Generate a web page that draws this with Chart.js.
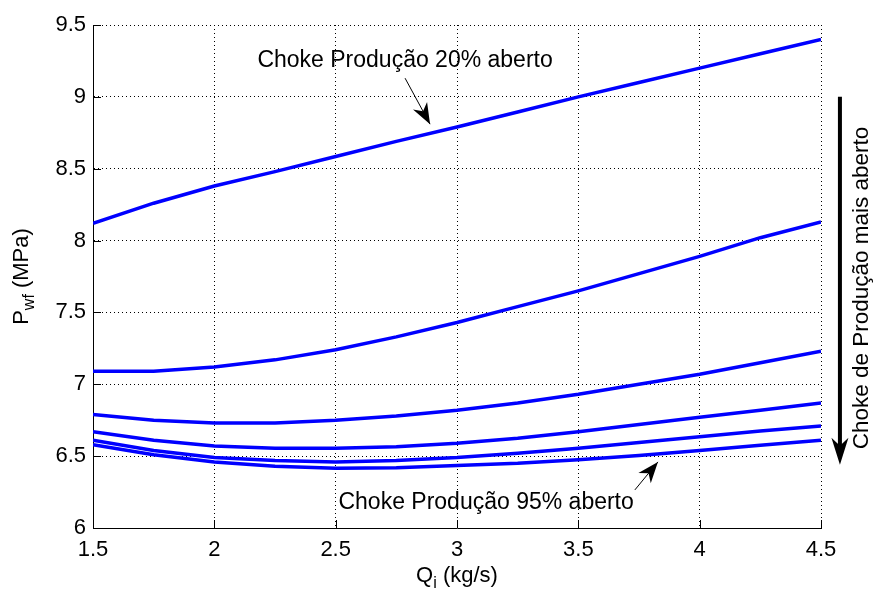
<!DOCTYPE html>
<html>
<head>
<meta charset="utf-8">
<script src="https://cdn.jsdelivr.net/npm/chart.js@4/dist/chart.umd.min.js"></script>
<style>
  html, body { margin: 0; padding: 0; background: #fff; }
  #wrap { width: 877px; height: 594px; }
</style>
</head>
<body>
<div id="wrap"><canvas id="chart" width="877" height="594"></canvas></div>
<script>
// ---------------------------------------------------------
// Data
// ---------------------------------------------------------
const qi = [1.5, 1.75, 2.0, 2.25, 2.5, 2.75, 3.0, 3.25, 3.5, 3.75, 4.0, 4.25, 4.5];

const choke20 = [8.12, 8.26, 8.38, 8.48, 8.585, 8.69, 8.79, 8.895, 9.0, 9.10, 9.20, 9.30, 9.40];
const chokeB  = [7.09, 7.09, 7.12, 7.17, 7.24, 7.33, 7.43, 7.54, 7.65, 7.77, 7.89, 8.02, 8.13];
const chokeC  = [6.79, 6.75, 6.73, 6.73, 6.75, 6.78, 6.82, 6.87, 6.93, 7.00, 7.07, 7.15, 7.23];
const chokeD  = [6.67, 6.61, 6.57, 6.555, 6.555, 6.565, 6.59, 6.625, 6.67, 6.72, 6.77, 6.82, 6.87];
const chokeE  = [6.61, 6.54, 6.49, 6.47, 6.46, 6.47, 6.49, 6.52, 6.555, 6.595, 6.635, 6.675, 6.71];
const choke95 = [6.58, 6.51, 6.46, 6.43, 6.415, 6.42, 6.435, 6.45, 6.475, 6.505, 6.54, 6.575, 6.61];

const series = [choke20, chokeB, chokeC, chokeD, chokeE, choke95];

const xTicks = [1.5, 2, 2.5, 3, 3.5, 4, 4.5];
const yTicks = [6, 6.5, 7, 7.5, 8, 8.5, 9, 9.5];

const FONT = '"Liberation Sans", Arial, sans-serif';

// annotation anchors, in data units
const note20 = { text: 'Choke Produção 20% aberto', x: 2.786, y: 9.25, tail: [2.786, 9.13], tip: [2.889, 8.81] };
const note95 = { text: 'Choke Produção 95% aberto', x: 3.12, y: 6.175, tail: [3.733, 6.265], tip: [3.828, 6.46] };
const sideNote = { text: 'Choke de Produção mais aberto', x: 4.67, yMid: 7.67, arrowX: 4.578, from: 9.0, to: 6.44 };

// ---------------------------------------------------------
// Helpers
// ---------------------------------------------------------
function arrowHead(ctx, x0, y0, x1, y1, len, half) {
  const a = Math.atan2(y1 - y0, x1 - x0);
  const c = Math.cos(a), s = Math.sin(a);
  const bx = x1 - c * len, by = y1 - s * len;
  const mx = x1 - c * len * 0.7, my = y1 - s * len * 0.7;
  ctx.beginPath();
  ctx.moveTo(x1, y1);
  ctx.lineTo(bx - s * half, by + c * half);
  ctx.lineTo(mx, my);
  ctx.lineTo(bx + s * half, by - c * half);
  ctx.closePath();
  ctx.fill();
}

function drawSubLabel(ctx, main, sub, rest, x, y, size) {
  // main text, then a subscript, then the rest, baseline at y
  ctx.font = size + 'px ' + FONT;
  ctx.fillText(main, x, y);
  let w = ctx.measureText(main).width;
  ctx.font = Math.round(size * 0.72) + 'px ' + FONT;
  ctx.fillText(sub, x + w, y + size * 0.28);
  w += ctx.measureText(sub).width;
  ctx.font = size + 'px ' + FONT;
  ctx.fillText(rest, x + w, y);
}

function subLabelWidth(ctx, main, sub, rest, size) {
  ctx.font = size + 'px ' + FONT;
  let w = ctx.measureText(main).width + ctx.measureText(rest).width;
  ctx.font = Math.round(size * 0.72) + 'px ' + FONT;
  return w + ctx.measureText(sub).width;
}

// ---------------------------------------------------------
// Extras plugin: inward ticks, axis titles, annotations
// ---------------------------------------------------------
const extras = {
  id: 'extras',
  afterDraw(chart) {
    const ctx = chart.ctx;
    const xs = chart.scales.x, ys = chart.scales.y;
    const area = chart.chartArea;
    ctx.save();
    ctx.strokeStyle = '#000';
    ctx.fillStyle = '#000';
    ctx.lineWidth = 1;

    // inward tick marks
    ctx.beginPath();
    xTicks.forEach(v => {
      const px = Math.round(xs.getPixelForValue(v)) + 0.5;
      ctx.moveTo(px, area.bottom);
      ctx.lineTo(px, area.bottom - 8);
    });
    yTicks.forEach(v => {
      const py = Math.round(ys.getPixelForValue(v)) + 0.5;
      ctx.moveTo(area.left, py);
      ctx.lineTo(area.left + 8, py);
    });
    ctx.stroke();

    // x axis title: Q_i (kg/s)
    ctx.textBaseline = 'alphabetic';
    ctx.textAlign = 'left';
    const xw = subLabelWidth(ctx, 'Q', 'i', ' (kg/s)', 22);
    drawSubLabel(ctx, 'Q', 'i', ' (kg/s)', (area.left + area.right) / 2 - xw / 2, 582, 22);

    // y axis title: P_wf (MPa)
    ctx.save();
    ctx.translate(28, (area.top + area.bottom) / 2);
    ctx.rotate(-Math.PI / 2);
    const yw = subLabelWidth(ctx, 'P', 'wf', ' (MPa)', 22);
    drawSubLabel(ctx, 'P', 'wf', ' (MPa)', -yw / 2, 0, 22);
    ctx.restore();

    // text annotations with arrows
    ctx.font = '23px ' + FONT;
    ctx.textAlign = 'center';
    ctx.textBaseline = 'middle';
    [note20, note95].forEach(n => {
      ctx.fillText(n.text, xs.getPixelForValue(n.x), ys.getPixelForValue(n.y));
      const tx = xs.getPixelForValue(n.tail[0]), ty = ys.getPixelForValue(n.tail[1]);
      const hx = xs.getPixelForValue(n.tip[0]), hy = ys.getPixelForValue(n.tip[1]);
      ctx.beginPath();
      ctx.moveTo(tx, ty);
      ctx.lineTo(hx, hy);
      ctx.stroke();
      arrowHead(ctx, tx, ty, hx, hy, 21, 8);
    });

    // side arrow: more open choke downward
    const ax = xs.getPixelForValue(sideNote.arrowX);
    const a0 = ys.getPixelForValue(sideNote.from), a1 = ys.getPixelForValue(sideNote.to);
    ctx.lineWidth = 4;
    ctx.beginPath();
    ctx.moveTo(ax, a0);
    ctx.lineTo(ax, a1 - 18);
    ctx.stroke();
    arrowHead(ctx, ax, a0, ax, a1, 27, 8.5);

    ctx.save();
    ctx.translate(xs.getPixelForValue(sideNote.x), ys.getPixelForValue(sideNote.yMid));
    ctx.rotate(-Math.PI / 2);
    ctx.font = '22.5px ' + FONT;
    ctx.fillText(sideNote.text, 0, 0);
    ctx.restore();

    ctx.restore();
  }
};

// ---------------------------------------------------------
// Chart
// ---------------------------------------------------------
const datasets = series.map(vals => ({
  data: qi.map((q, i) => ({ x: q, y: vals[i] })),
  borderColor: '#0000ff',
  borderWidth: 3.5,
  pointRadius: 0,
  tension: 0,
  fill: false
}));

new Chart(document.getElementById('chart'), {
  type: 'line',
  data: { datasets },
  options: {
    responsive: false,
    animation: false,
    devicePixelRatio: 1,
    layout: { padding: { left: 0, top: 25, right: 56, bottom: 0 } },
    plugins: { legend: { display: false }, tooltip: { enabled: false } },
    scales: {
      x: {
        type: 'linear',
        min: 1.5,
        max: 4.5,
        afterBuildTicks: s => { s.ticks = xTicks.map(v => ({ value: v })); },
        afterFit: s => { s.height = 66; },
        ticks: {
          color: '#000',
          padding: 9,
          maxRotation: 0,
          font: { family: FONT, size: 22 },
          callback: v => String(v)
        },
        grid: { color: '#000', lineWidth: 1, drawTicks: false },
        border: { display: true, color: '#000', width: 1, dash: [1, 3] }
      },
      y: {
        type: 'linear',
        min: 6,
        max: 9.5,
        afterBuildTicks: s => { s.ticks = yTicks.map(v => ({ value: v })); },
        afterFit: s => { s.width = 93; },
        ticks: {
          color: '#000',
          padding: 7,
          font: { family: FONT, size: 22 },
          callback: v => String(v)
        },
        grid: { color: '#000', lineWidth: 1, drawTicks: false },
        border: { display: true, color: '#000', width: 1, dash: [1, 3] }
      }
    }
  },
  plugins: [extras]
});
</script>
</body>
</html>
